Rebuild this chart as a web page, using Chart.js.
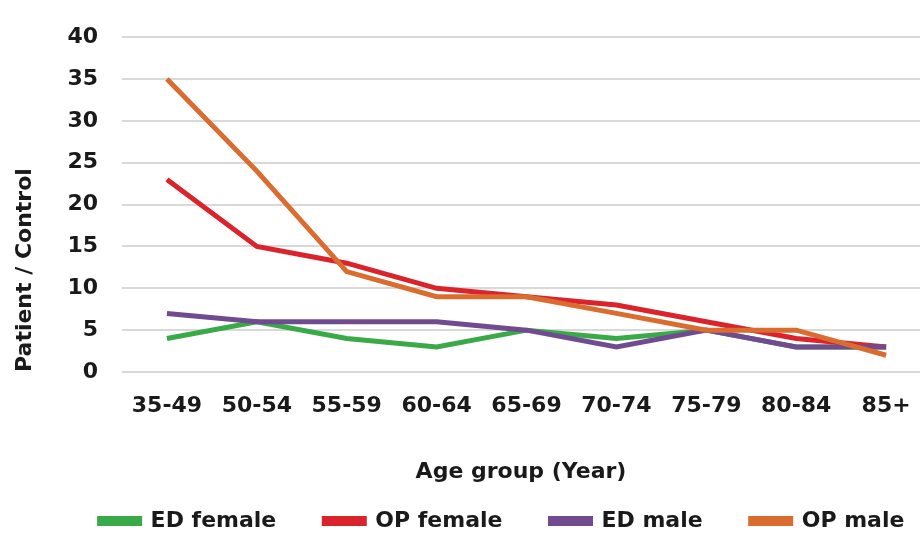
<!DOCTYPE html>
<html>
<head>
<meta charset="utf-8">
<script src="https://cdn.jsdelivr.net/npm/chart.js@4"></script>
<style>
  html, body { margin: 0; padding: 0; background: #fff; }
  #wrap { width: 920px; height: 536px; }
</style>
</head>
<body>
<div id="wrap"><canvas id="age-chart"></canvas></div>
<script>
const ageGroups = ['35-49', '50-54', '55-59', '60-64', '65-69', '70-74', '75-79', '80-84', '85+'];
const edFemale = [4, 6, 4, 3, 5, 4, 5, 3, 3];
const opFemale = [23, 15, 13, 10, 9, 8, 6, 4, 3];
const edMale = [7, 6, 6, 6, 5, 3, 5, 3, 3];
const opMale = [35, 24, 12, 9, 9, 7, 5, 5, 2];
const yTicks = [0, 5, 10, 15, 20, 25, 30, 35, 40];
const seriesNames = ['ED female', 'OP female', 'ED male', 'OP male'];
const seriesColors = ['rgb(58, 170, 73)', 'rgb(218, 35, 43)', 'rgb(112, 75, 143)', 'rgb(219, 108, 48)'];

const fontFamily = '"DejaVu Sans", sans-serif';
const textColor = '#1a1a1a';
const legendPad = 48;

// excel draws the later series on top, chart.js draws lower "order" on top
function makeSet(i, values) {
    return {
        label: seriesNames[i],
        data: values.map((v, idx) => ({ x: idx, y: v })),
        borderColor: seriesColors[i],
        backgroundColor: seriesColors[i],
        borderWidth: 5,
        pointRadius: 0,
        tension: 0,
        order: 3 - i
    };
}

// legend in the original sits a bit right of centre
const legendShift = {
    id: 'legendShift',
    afterLayout(chart) {
        chart.legend.left += 36;
        chart.legend.right += 36;
    }
};

const canvas = document.getElementById('age-chart');
const ctx = canvas.getContext('2d');
ctx.letterSpacing = '1px';

new Chart(ctx, {
    type: 'line',
    data: {
        datasets: [
            makeSet(0, edFemale),
            makeSet(1, opFemale),
            makeSet(2, edMale),
            makeSet(3, opMale)
        ]
    },
    plugins: [legendShift],
    options: {
        responsive: true,
        maintainAspectRatio: false,
        animation: false,
        layout: { padding: { top: 25, right: 0, left: 12, bottom: -6 } },
        plugins: {
            legend: {
                position: 'bottom',
                labels: {
                    boxWidth: 40,
                    boxHeight: 5,
                    padding: legendPad,
                    color: textColor,
                    font: { family: fontFamily, size: 22, weight: 'bold' },
                    sort: (a, b) => a.datasetIndex - b.datasetIndex
                }
            },
            tooltip: { enabled: false }
        },
        scales: {
            x: {
                type: 'linear',
                min: -0.5,
                max: 8.377,
                grid: { display: false, drawTicks: false },
                border: { display: false },
                afterFit: (scale) => {
                    scale.height = 138 - legendPad;
                    scale.paddingLeft = 0;
                    scale.paddingRight = 0;
                },
                ticks: {
                    stepSize: 1,
                    includeBounds: false,
                    autoSkip: false,
                    color: textColor,
                    padding: 21,
                    maxRotation: 0,
                    font: { family: fontFamily, size: 22, weight: 'bold' },
                    callback: v => ageGroups[v] ?? ''
                },
                title: {
                    display: true,
                    text: 'Age group (Year)',
                    color: textColor,
                    padding: { top: 0, bottom: 24.8 - legendPad },
                    font: { family: fontFamily, size: 22, weight: 'bold' }
                }
            },
            y: {
                min: yTicks[0],
                max: yTicks[yTicks.length - 1],
                grid: { color: '#d9d9d9', lineWidth: 2, drawTicks: false },
                border: { display: false },
                afterFit: (scale) => {
                    scale.width = 110;
                },
                ticks: {
                    stepSize: yTicks[1] - yTicks[0],
                    color: textColor,
                    padding: 24,
                    font: { family: fontFamily, size: 22, weight: 'bold' }
                },
                title: {
                    display: true,
                    text: 'Patient / Control',
                    align: 'start',
                    color: textColor,
                    padding: { top: 0, bottom: 0 },
                    font: { family: fontFamily, size: 22, weight: 'bold' }
                }
            }
        }
    }
});
</script>
</body>
</html>
